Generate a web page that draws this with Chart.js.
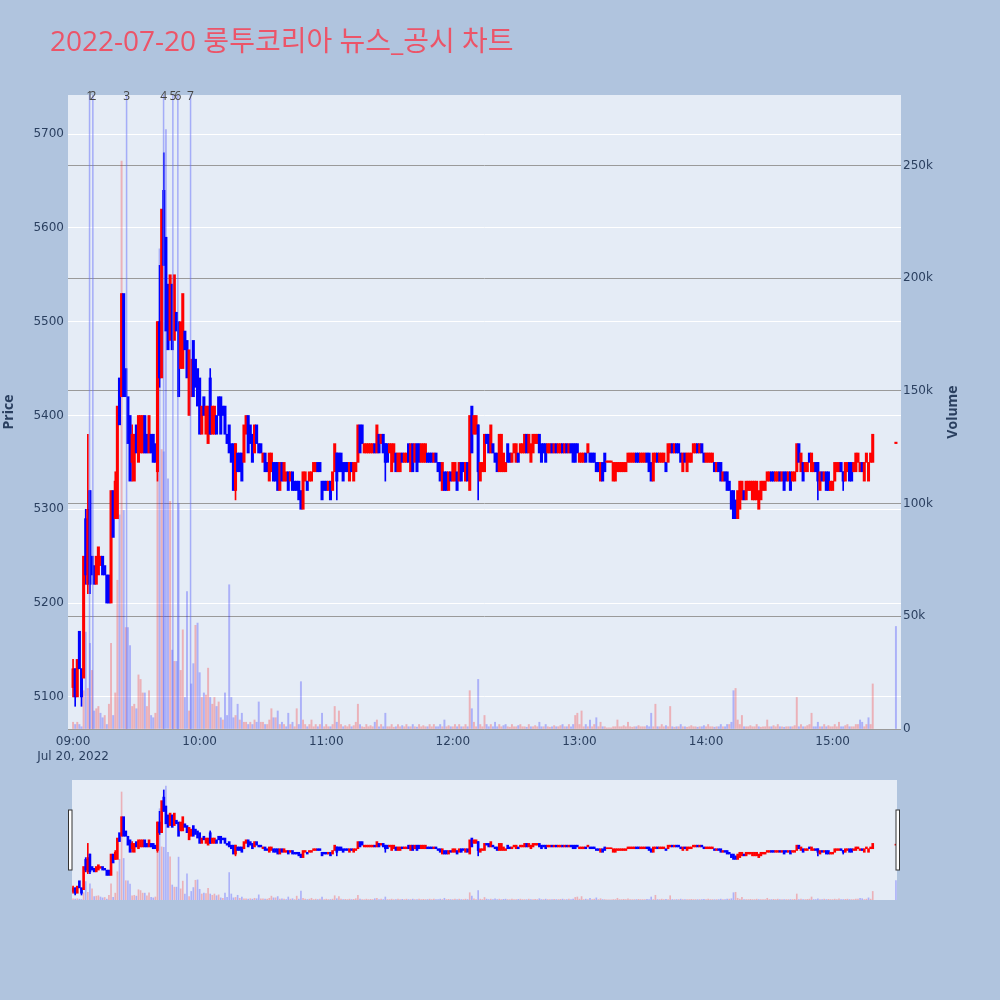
<!DOCTYPE html>
<html lang="ko">
<head>
<meta charset="utf-8">
<title>룽투코리아 뉴스_공시 차트</title>
<script src="https://cdn.jsdelivr.net/npm/chart.js@4.4.1/dist/chart.umd.min.js"></script>
<style>
  html, body { margin: 0; padding: 0; }
  body { width: 1000px; height: 1000px; background: #b0c4de; position: relative; overflow: hidden; }
  #title {
    position: absolute; left: 50px; top: 26px; margin: 0; z-index: 2;
    font: 28px/28px 'Open Sans', 'Noto Sans CJK KR', sans-serif;
    color: #ec5468; white-space: nowrap;
  }
  #main { position: absolute; left: 0; top: 0; }
  #slider { position: absolute; left: 0; top: 770px; }
</style>
</head>
<body>
<div id="title">2022-07-20 룽투코리아 뉴스_공시 차트</div>
<canvas id="main" width="1000" height="770"></canvas>
<canvas id="slider" width="1000" height="140"></canvas>
<script>
// ─────────────────────────────────────────────────────────────────────────────
// SESSION DATA — one candle per minute starting 09:00, prices in KRW
// ─────────────────────────────────────────────────────────────────────────────

const SESSION_START = '09:00';
const TRADE_DATE = 'Jul 20, 2022';

const opens = [
  5110, 5130, 5100, 5170, 5130, 5120, 5290, 5220, 5320, 5250,   // 09:00
  5240, 5220, 5230, 5240, 5250, 5240, 5230, 5230, 5200, 5320,
  5290, 5290, 5440, 5420, 5530, 5450, 5420, 5400, 5350, 5330,
  5390, 5350, 5360, 5360, 5400, 5380, 5360, 5380, 5380, 5370,
  5340, 5500, 5440, 5640, 5590, 5540, 5480, 5540, 5480, 5510,
  5500, 5450, 5450, 5490, 5480, 5400, 5420, 5480, 5460, 5450,
  5440, 5380, 5420, 5380, 5370, 5440, 5380, 5380, 5400, 5420,   // 10:00
  5420, 5410, 5410, 5380, 5390, 5370, 5370, 5320, 5360, 5360,
  5360, 5350, 5380, 5400, 5390, 5380, 5360, 5390, 5370, 5370,
  5350, 5360, 5350, 5330, 5340, 5350, 5350, 5350, 5320, 5350,
  5330, 5330, 5340, 5330, 5340, 5330, 5330, 5330, 5320, 5300,
  5330, 5330, 5330, 5330, 5340, 5340, 5350, 5350, 5330, 5330,
  5330, 5320, 5330, 5320, 5340, 5360, 5360, 5360, 5350, 5350,   // 11:00
  5350, 5330, 5350, 5330, 5340, 5350, 5390, 5390, 5360, 5360,
  5360, 5360, 5360, 5370, 5360, 5380, 5370, 5380, 5370, 5370,
  5360, 5340, 5350, 5360, 5340, 5340, 5360, 5350, 5350, 5370,
  5340, 5370, 5350, 5370, 5370, 5350, 5350, 5350, 5360, 5360,
  5360, 5350, 5360, 5350, 5350, 5320, 5340, 5340, 5320, 5340,
  5330, 5330, 5340, 5330, 5350, 5350, 5330, 5350, 5320, 5410,   // 12:00
  5380, 5380, 5390, 5330, 5340, 5340, 5380, 5380, 5360, 5370,
  5360, 5360, 5340, 5340, 5340, 5340, 5370, 5360, 5350, 5360,
  5350, 5360, 5360, 5360, 5360, 5380, 5360, 5350, 5360, 5370,
  5370, 5380, 5370, 5370, 5370, 5360, 5360, 5370, 5360, 5370,
  5360, 5360, 5370, 5360, 5370, 5360, 5370, 5370, 5370, 5370,
  5350, 5350, 5350, 5360, 5360, 5360, 5360, 5360, 5350, 5350,   // 13:00
  5330, 5350, 5360, 5350, 5350, 5350, 5330, 5330, 5340, 5340,
  5340, 5340, 5340, 5350, 5350, 5350, 5350, 5360, 5360, 5350,
  5350, 5350, 5360, 5360, 5350, 5330, 5350, 5360, 5350, 5350,
  5350, 5350, 5350, 5360, 5370, 5360, 5370, 5370, 5360, 5340,
  5360, 5340, 5350, 5350, 5360, 5360, 5370, 5360, 5370, 5360,
  5350, 5350, 5350, 5350, 5350, 5340, 5350, 5350, 5330, 5340,   // 14:00
  5340, 5330, 5320, 5320, 5310, 5290, 5300, 5310, 5320, 5310,
  5320, 5320, 5310, 5310, 5310, 5300, 5310, 5320, 5320, 5330,
  5330, 5340, 5340, 5330, 5330, 5340, 5330, 5340, 5340, 5330,
  5340, 5330, 5330, 5340, 5370, 5340, 5350, 5340, 5340, 5360,
  5340, 5340, 5350, 5350, 5320, 5340, 5330, 5340, 5340, 5320,
  5320, 5330, 5340, 5340, 5350, 5340, 5330, 5340, 5350, 5350,   // 15:00
  5340, 5340, 5350, 5340, 5350, 5330, 5350, 5330, 5350, 5350,
];

const closes = [
  5130, 5100, 5140, 5130, 5100, 5250, 5230, 5300, 5220, 5230,   // 09:00
  5220, 5250, 5260, 5250, 5230, 5230, 5200, 5200, 5320, 5270,
  5330, 5410, 5390, 5530, 5420, 5420, 5370, 5330, 5380, 5380,
  5360, 5400, 5400, 5400, 5360, 5360, 5400, 5360, 5350, 5350,
  5500, 5440, 5620, 5560, 5490, 5470, 5550, 5470, 5550, 5490,
  5420, 5500, 5530, 5470, 5440, 5470, 5460, 5420, 5430, 5410,
  5380, 5410, 5400, 5410, 5410, 5380, 5410, 5410, 5380, 5400,   // 10:00
  5380, 5400, 5380, 5370, 5360, 5350, 5320, 5370, 5340, 5340,
  5330, 5390, 5400, 5360, 5370, 5350, 5390, 5370, 5360, 5360,
  5360, 5340, 5340, 5360, 5360, 5330, 5330, 5320, 5350, 5330,
  5350, 5340, 5320, 5340, 5320, 5320, 5320, 5310, 5300, 5340,
  5340, 5320, 5340, 5340, 5350, 5350, 5340, 5340, 5310, 5320,
  5320, 5330, 5310, 5340, 5370, 5330, 5340, 5340, 5330, 5340,   // 11:00
  5340, 5350, 5340, 5350, 5350, 5390, 5360, 5370, 5370, 5370,
  5370, 5370, 5370, 5360, 5390, 5360, 5380, 5360, 5350, 5350,
  5370, 5370, 5370, 5340, 5360, 5360, 5350, 5360, 5360, 5350,
  5370, 5340, 5370, 5340, 5350, 5370, 5370, 5370, 5350, 5350,
  5350, 5360, 5350, 5340, 5330, 5350, 5320, 5320, 5340, 5330,
  5350, 5350, 5320, 5350, 5330, 5340, 5350, 5330, 5400, 5360,   // 12:00
  5400, 5400, 5340, 5350, 5350, 5380, 5370, 5360, 5390, 5360,
  5350, 5340, 5380, 5380, 5360, 5350, 5350, 5350, 5360, 5370,
  5370, 5350, 5370, 5370, 5380, 5360, 5380, 5370, 5380, 5380,
  5380, 5360, 5350, 5360, 5350, 5370, 5370, 5360, 5370, 5360,
  5370, 5370, 5360, 5370, 5360, 5370, 5360, 5350, 5350, 5360,
  5360, 5360, 5360, 5350, 5370, 5350, 5350, 5350, 5340, 5340,   // 13:00
  5350, 5330, 5340, 5350, 5350, 5350, 5350, 5350, 5350, 5350,
  5350, 5350, 5350, 5360, 5360, 5360, 5360, 5350, 5350, 5360,
  5360, 5360, 5350, 5340, 5330, 5360, 5360, 5350, 5360, 5360,
  5360, 5340, 5370, 5370, 5360, 5370, 5360, 5360, 5350, 5360,
  5350, 5360, 5360, 5360, 5370, 5370, 5360, 5370, 5360, 5350,
  5360, 5360, 5360, 5360, 5340, 5350, 5340, 5330, 5340, 5330,   // 14:00
  5320, 5320, 5300, 5290, 5290, 5320, 5330, 5330, 5310, 5330,
  5330, 5330, 5330, 5330, 5330, 5320, 5330, 5330, 5330, 5340,
  5340, 5330, 5330, 5340, 5340, 5330, 5340, 5320, 5330, 5340,
  5320, 5340, 5340, 5370, 5350, 5360, 5330, 5350, 5350, 5350,
  5360, 5350, 5340, 5330, 5340, 5330, 5340, 5320, 5320, 5330,
  5330, 5350, 5350, 5350, 5340, 5330, 5350, 5350, 5330, 5330,   // 15:00
  5350, 5360, 5360, 5350, 5340, 5350, 5360, 5350, 5360, 5380,
];

// traded volume per minute, thousand shares
const volumesK = [
  3, 2, 3, 2, 1, 17, 43, 18, 38, 26,
  8, 9, 10, 7, 5, 6, 2, 11, 38, 6,
  16, 66, 95, 252, 97, 45, 45, 37, 10, 11,
  9, 24, 22, 16, 16, 10, 17, 6, 5, 7,
  180, 213, 124, 123, 266, 111, 101, 35, 30, 30,
  100, 26, 44, 14, 61, 8, 20, 29, 46, 47,
  25, 14, 16, 15, 27, 14, 11, 14, 10, 12,
  5, 4, 16, 6, 64, 14, 5, 6, 11, 4,
  7, 3, 3, 2, 3, 2, 4, 3, 12, 3,
  3, 2, 2, 4, 9, 5, 5, 8, 2, 3,
  2, 1, 7, 2, 3, 1, 9, 2, 21, 4,
  2, 1, 2, 4, 1, 2, 1, 2, 7, 1,
  2, 1, 1, 2, 10, 3, 8, 2, 1, 1.5,
  1, 2, 1, 1.5, 3, 11, 2, 1, 0.8, 2,
  1, 1.5, 1, 3, 4, 1, 2, 1, 7, 1,
  1, 2, 0.8, 1, 2, 1, 1.5, 1, 2, 1,
  1, 2, 1, 0.8, 2, 1, 1.5, 1, 1, 2,
  1, 2, 1, 1, 2, 1, 4, 1, 1.5, 1,
  1, 2, 1, 2, 1, 1, 2, 1, 17, 9,
  3, 1, 22, 2, 1, 6, 2, 1, 2, 1,
  3, 1, 2, 1, 1.5, 2, 1, 0.8, 2, 1,
  1, 1.5, 2, 1, 1, 0.8, 2, 1, 1, 1.5,
  1, 3, 1, 1, 2, 1, 0.8, 1, 1.5, 1,
  1, 1.5, 2, 1, 1, 2, 1, 2, 6, 7,
  2, 8, 1, 2, 1, 4, 1, 2, 5, 1,
  3, 1, 1, 0.5, 0.5, 0.5, 1, 1, 4, 1,
  1, 1.5, 1, 3, 1, 0.8, 1, 1, 1.5, 1,
  1, 1, 1.5, 1, 7, 1, 11, 1, 1, 2,
  1, 1.5, 1, 10, 1, 0.8, 1, 1, 2, 1,
  1, 0.8, 1, 1.5, 1, 1, 0.8, 1, 1, 1.5,
  1, 2, 1, 1, 0.8, 1, 1, 2, 1, 1,
  2, 2, 3, 17, 18, 4, 2, 6, 1, 1,
  1, 1.5, 1, 1, 2, 1, 0.8, 1, 1, 4,
  1, 1, 1.5, 1, 2, 1, 1, 0.8, 1, 1,
  1, 1, 1.5, 14, 1, 2, 1, 1, 1.5, 2,
  7, 1, 1, 3, 1, 1, 2, 1, 1.5, 1,
  1, 2, 1, 3, 1, 1, 1.5, 2, 1, 1,
  1, 2, 2, 4, 3, 1, 2, 5, 2, 20,
];

// candles whose high / low reach past the body (minute index, low, high)
const wickIdx   = [0, 1, 4, 6, 7, 8, 20, 28, 40, 41, 43, 65, 77, 125, 148, 192, 353, 365];
const wickLows  = [5100, 5090, 5090, 5220, 5210, 5210, 5290, 5330, 5330, 5430, 5560, 5380, 5310, 5310, 5330, 5310, 5310, 5320];
const wickHighs = [5140, 5130, 5130, 5300, 5380, 5320, 5340, 5390, 5500, 5560, 5680, 5450, 5370, 5360, 5370, 5390, 5350, 5340];

// closing single-price auction
const closingAuction = { time: '15:30', price: 5370, volumeK: 45.5 };

// news / disclosure markers
const newsLabels = ['1', '2', '3', '4', '5', '6', '7'];
const newsTimes  = ['09:07:49', '09:09:23', '09:25:22', '09:42:54', '09:47:18', '09:49:40', '09:55:41'];

// ─────────────────────────────────────────────────────────────────────────────
// Chart configuration
// ─────────────────────────────────────────────────────────────────────────────

const FONT = "'Open Sans', 'Noto Sans CJK KR', sans-serif";
const TICK_FONT = "Verdana, 'DejaVu Sans', sans-serif";
const TEXT = '#2a3f5f';
const RED = '#ff0000', BLUE = '#0000ff';
const RED_VOL = 'rgba(255,0,0,0.25)', BLUE_VOL = 'rgba(0,0,255,0.25)';

Chart.defaults.font.family = TICK_FONT;
Chart.defaults.font.size = 12;
Chart.defaults.color = TEXT;

function toMin(t) {
  const [h, m, s] = t.split(':').map(Number);
  const [h0, m0] = SESSION_START.split(':').map(Number);
  return (h * 60 + m + (s || 0) / 60) - (h0 * 60 + m0);
}
function minLabel(v) {
  const [h0, m0] = SESSION_START.split(':').map(Number);
  const t = h0 * 60 + m0 + v;
  return String(Math.floor(t / 60)).padStart(2, '0') + ':' + String(t % 60).padStart(2, '0');
}

const auctionX = toMin(closingAuction.time);

const bodyPoints = () => opens.map((o, i) => ({ x: i, y: [o, closes[i]] }))
  .concat([{ x: auctionX, y: [closingAuction.price, closingAuction.price] }]);
const wickPoints = () => wickIdx.map((m, k) => ({ x: m, y: [wickLows[k], wickHighs[k]] }));
const volumePoints = () => volumesK.map((v, i) => ({ x: i, y: v }))
  .concat([{ x: auctionX, y: closingAuction.volumeK }]);

const closeAt = x => (x === auctionX ? closingAuction.price : closes[x]);
const prevClose = x => (x === auctionX ? closes[closes.length - 1] : x > 0 ? closes[x - 1] : opens[0]);

const bodyColor = c => (c.raw && c.raw.y[1] >= c.raw.y[0] ? RED : BLUE);
const wickColor = c => (c.raw && closes[c.raw.x] >= opens[c.raw.x] ? RED : BLUE);
const volColor = c => (c.raw && closeAt(c.raw.x) >= prevClose(c.raw.x) ? RED_VOL : BLUE_VOL);

function makeDatasets(size) {
  return [
    { label: 'Candle', data: bodyPoints(), yAxisID: 'yP', backgroundColor: bodyColor,
      barThickness: size.body, minBarLength: size.minBody, grouped: false, order: 1 },
    { label: 'Wick', data: wickPoints(), yAxisID: 'yP', backgroundColor: wickColor,
      barThickness: size.wick, grouped: false, order: 2 },
    { label: 'Volume', data: volumePoints(), yAxisID: 'yV', backgroundColor: volColor,
      barThickness: size.vol, grouped: false, order: 3 },
  ];
}

const plotBg = {
  id: 'plotBg',
  beforeDraw(chart) {
    const { ctx, chartArea: a } = chart;
    ctx.save();
    ctx.fillStyle = '#e5ecf6';
    ctx.fillRect(a.left, a.top, a.width, a.height);
    ctx.restore();
  },
};

const newsMarkers = {
  id: 'newsMarkers',
  afterDatasetsDraw(chart) {
    const { ctx, chartArea: a, scales } = chart;
    ctx.save();
    ctx.strokeStyle = 'rgba(100,110,250,0.5)';
    ctx.lineWidth = 1.5;
    ctx.fillStyle = '#444';
    ctx.font = '12px ' + FONT;
    ctx.textAlign = 'center';
    ctx.textBaseline = 'middle';
    newsTimes.forEach((t, i) => {
      const x = scales.x.getPixelForValue(toMin(t));
      ctx.beginPath();
      ctx.moveTo(x, a.top);
      ctx.lineTo(x, a.bottom);
      ctx.stroke();
      ctx.fillText(newsLabels[i], x, a.top + 2);
    });
    ctx.restore();
  },
};

// plotly writes the right-hand title bottom-to-top, Chart.js would flip it
const volumeTitle = {
  id: 'volumeTitle',
  afterDraw(chart) {
    const { ctx, chartArea: a } = chart;
    ctx.save();
    ctx.translate(953, (a.top + a.bottom) / 2);
    ctx.rotate(-Math.PI / 2);
    ctx.font = 'bold 14px ' + FONT;
    ctx.fillStyle = TEXT;
    ctx.textAlign = 'center';
    ctx.textBaseline = 'middle';
    ctx.fillText('Volume', 0, 0);
    ctx.restore();
  },
};

new Chart(document.getElementById('main'), {
  type: 'bar',
  data: { datasets: makeDatasets({ body: 2.4, minBody: 1.5, wick: 1, vol: 1.3 }) },
  options: {
    responsive: false,
    animation: false,
    layout: { padding: { top: 95, right: 35, left: 0, bottom: 0 } },
    plugins: { legend: { display: false }, tooltip: { enabled: false } },
    scales: {
      x: {
        type: 'linear', min: -2.4, max: 392.4, offset: false,
        grid: { display: false, drawTicks: false, offset: false },
        border: { display: false },
        ticks: {
          stepSize: 60, includeBounds: false, autoSkip: false, maxRotation: 0, padding: 6,
          callback: v => (v === 0 ? [minLabel(v), TRADE_DATE] : minLabel(v)),
        },
        afterFit: s => { s.height = 41; },
      },
      yP: {
        position: 'left', min: 5065.8, max: 5741.6,
        grid: { color: '#ffffff', drawTicks: false },
        border: { display: false },
        ticks: { stepSize: 100, includeBounds: false, padding: 4, callback: v => String(v) },
        title: { display: true, text: 'Price', font: { family: FONT, size: 14, weight: 'bold' }, padding: 1 },
        afterFit: s => { s.width = 68; },
      },
      yV: {
        position: 'right', min: 0, max: 281.3,
        grid: { color: '#9a9a9a', drawTicks: false },
        border: { display: false },
        ticks: { stepSize: 50, includeBounds: false, padding: 2, callback: v => (v === 0 ? '0' : v + 'k') },
        afterFit: s => { s.width = 64; },
      },
    },
  },
  plugins: [plotBg, newsMarkers, volumeTitle],
});

// ── range slider ────────────────────────────────────────────────────────────

const sliderHandles = {
  id: 'sliderHandles',
  afterDraw(chart) {
    const { ctx, chartArea: a } = chart;
    ctx.save();
    ctx.fillStyle = '#ffffff';
    ctx.strokeStyle = '#333';
    ctx.lineWidth = 1;
    [a.left - 2, a.right + 0.5].forEach(x => {
      ctx.fillRect(x - 1.5, a.top + 30, 3.5, 60);
      ctx.strokeRect(x - 1.5, a.top + 30, 3.5, 60);
    });
    ctx.restore();
  },
};

new Chart(document.getElementById('slider'), {
  type: 'bar',
  data: { datasets: makeDatasets({ body: 2, minBody: 1, wick: 1, vol: 1 }) },
  options: {
    responsive: false,
    animation: false,
    layout: { padding: { left: 72, right: 103, top: 10, bottom: 10 } },
    plugins: { legend: { display: false }, tooltip: { enabled: false } },
    scales: {
      x: { type: 'linear', display: false, min: -0.5, max: 390.5, offset: false },
      yP: { display: false, min: 5062, max: 5736 },
      yV: { display: false, min: 0, max: 280 },
    },
  },
  plugins: [plotBg, sliderHandles],
});
</script>
</body>
</html>
